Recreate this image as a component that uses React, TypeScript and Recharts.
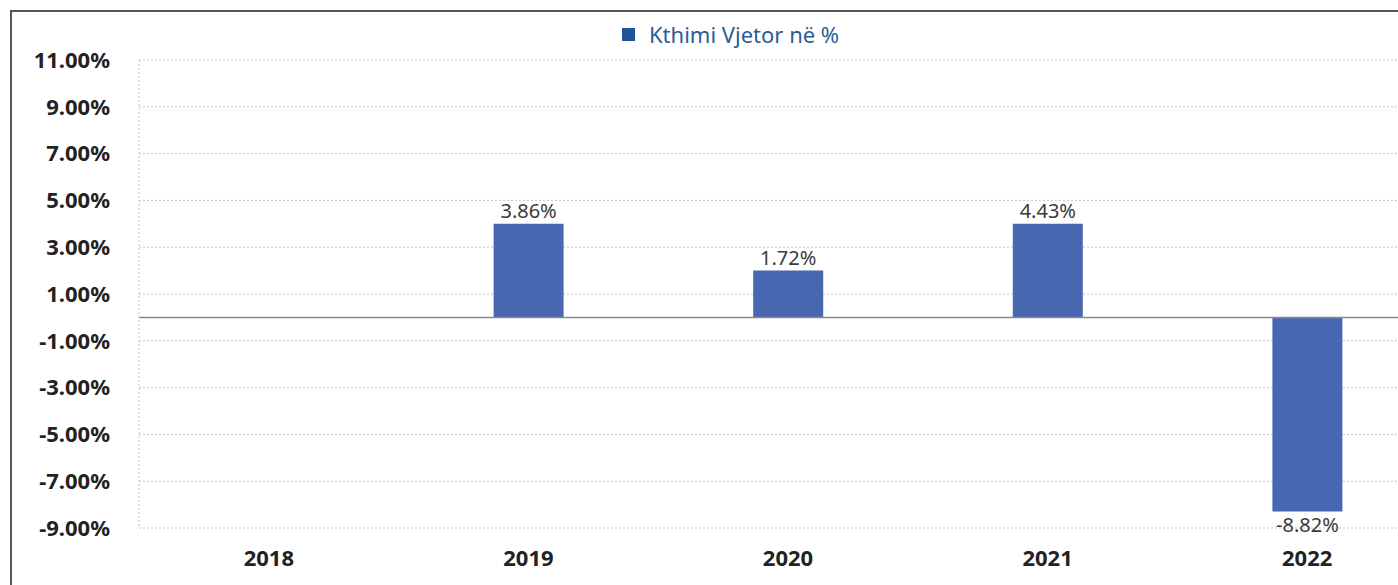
import React from "react";
import { BarChart, Bar, XAxis, YAxis, CartesianGrid, ReferenceLine, LabelList } from "recharts";

// values (bar heights) and the printed labels
const years = ["2018", "2019", "2020", "2021", "2022"];
const barValues: (number | null)[] = [null, 4.0, 2.0, 4.0, -8.3];
const valueLabels = ["", "3.86%", "1.72%", "4.43%", "-8.82%"];
const yTicks = [11, 9, 7, 5, 3, 1, -1, -3, -5, -7, -9];
const seriesName = "Kthimi Vjetor në %";

const data = years.map((y, i) => ({ year: y, value: barValues[i], label: valueLabels[i] }));

const FONT = "'Noto Sans', 'Open Sans', sans-serif";

function ValueLabel(props: any) {
  const { x, y, width, height, value } = props;
  if (!value) return null;
  const neg = String(value).startsWith("-");
  const top = Math.min(y, y + height);
  const bottom = Math.max(y, y + height);
  const ty = neg ? bottom + 20 : top - 6;
  return (
    <text x={x + width / 2} y={ty} textAnchor="middle" fontSize={20} fill="#3a3a3a" fontFamily={FONT}>
      {value}
    </text>
  );
}

export default function App() {
  return (
    <div style={{ position: "fixed", left: 0, top: 0, width: 1398, height: 585, overflow: "hidden", background: "#fff" }}>
      <div
        style={{
          position: "absolute",
          left: 10,
          top: 10,
          width: 1500,
          height: 700,
          borderLeft: "2px solid #555",
          borderTop: "2px solid #555",
        }}
      />
      <div
        style={{
          position: "absolute",
          left: 622,
          top: 19,
          display: "flex",
          alignItems: "center",
          fontFamily: FONT,
          fontSize: 22,
          color: "#2a5d95",
          whiteSpace: "nowrap",
        }}
      >
        <span style={{ display: "inline-block", width: 13, height: 13, background: "#1f5594", marginRight: 14 }} />
        {seriesName}
      </div>
      <div style={{ position: "absolute", left: 0, top: 0 }}>
        <BarChart width={1437} height={585} data={data} margin={{ top: 60, right: 0, left: 0, bottom: 0 }}>
          <CartesianGrid vertical={false} stroke="#c4c4c4" strokeDasharray="2 2" />
          <XAxis
            dataKey="year"
            height={57}
            axisLine={false}
            tickLine={false}
            tickMargin={16}
            tick={{ fontSize: 22, fontWeight: 700, fill: "#222", fontFamily: FONT }}
          />
          <YAxis
            width={139}
            domain={[-9, 11]}
            ticks={yTicks}
            interval={0}
            axisLine={{ stroke: "#c4c4c4", strokeDasharray: "2 2" }}
            tickLine={false}
            tickMargin={23}
            tickFormatter={(v: number) => `${v.toFixed(2)}%`}
            tick={{ fontSize: 22, fontWeight: 700, fill: "#222", fontFamily: FONT }}
          />
          <ReferenceLine y={0} stroke="#8a8a8a" strokeWidth={1.5} />
          <Bar dataKey="value" name={seriesName} fill="#4767b0" barSize={70} isAnimationActive={false}>
            <LabelList dataKey="label" content={<ValueLabel />} />
          </Bar>
        </BarChart>
      </div>
    </div>
  );
}
